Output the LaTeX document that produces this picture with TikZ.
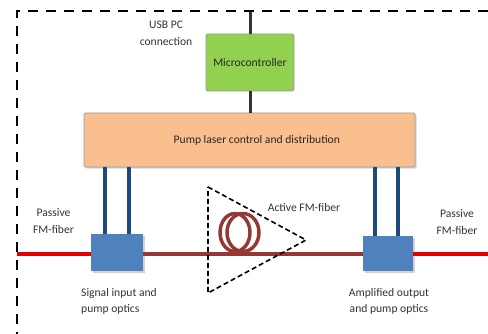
\documentclass[tikz,border=0pt]{standalone}
\usepackage{fontspec}
\setmainfont{Carlito}
\usepackage{tikz}
\usetikzlibrary{shadows}
\definecolor{boxgreen}{RGB}{146,208,80}
\definecolor{boxorange}{RGB}{250,191,143}
\definecolor{boxblue}{RGB}{79,129,189}
\definecolor{pumpblue}{RGB}{31,73,125}
\definecolor{activered}{RGB}{149,55,53}
\tikzstyle{control} = [rectangle, rounded corners=1pt, text centered, draw=black!40, line width=0.5pt, font=\fontsize{8.7}{10}\selectfont, text=black!85, inner sep=0pt]
\tikzstyle{softshadow} = [drop shadow={shadow xshift=1.2pt, shadow yshift=-1.2pt, fill=black!35}]
\tikzstyle{optics} = [rectangle, fill=boxblue, draw=none, inner sep=0pt, softshadow]
\tikzstyle{caption} = [font=\fontsize{8.7}{12.5}\selectfont, text=black!80, inner sep=0pt]
\tikzstyle{wire} = [line width=2pt, draw=black!80]
\tikzstyle{pump} = [line width=3pt, draw=pumpblue]
\tikzstyle{passive} = [line width=2.5pt, draw=red!90!black]
\tikzstyle{activefiber} = [line width=3pt, draw=activered]
\tikzstyle{coil} = [line width=2.6pt, draw=activered]
\tikzstyle{frame} = [line width=2.2pt, dash pattern=on 7.5pt off 6pt]
\begin{document}
\begin{tikzpicture}[x=0.75pt, y=-0.75pt]
    \useasboundingbox (0,0) rectangle (488,334);
    % Nodes
    \node (micro) [control, fill=boxgreen, minimum width=66pt, minimum height=42.75pt] at (250,62.5) {Microcontroller};
    \node (pumpctl) [control, fill=boxorange, minimum width=248.25pt, minimum height=40.5pt, softshadow] at (249.5,140) {\hspace*{11pt}Pump laser control and distribution};
    \node (inoptics) [optics, minimum width=39pt, minimum height=27.75pt] at (117,252.5) {};
    \node (outoptics) [optics, minimum width=37.5pt, minimum height=26.25pt] at (388,253.5) {};
    \coordinate (usb) at (250.5,11);
    \coordinate (inleft) at (105,167);
    \coordinate (inright) at (129,167);
    \coordinate (outleft) at (375,167);
    \coordinate (outright) at (398,167);
    \coordinate (fiberleft) at (17,254);
    \coordinate (fiberright) at (488,254);
    \coordinate (ampa) at (208,187);
    \coordinate (ampb) at (306,240);
    \coordinate (ampc) at (208,293);
    % Arrows
    \draw [wire] (usb) -- (usb |- micro.north);
    \draw [wire] (usb |- micro.south) -- (usb |- pumpctl.north);
    \draw [pump] (inleft) -- (inleft |- inoptics.north);
    \draw [pump] (inright) -- (inright |- inoptics.north);
    \draw [pump] (outleft) -- (outleft |- outoptics.north);
    \draw [pump] (outright) -- (outright |- outoptics.north);
    \draw [passive] (fiberleft) -- (inoptics.west |- fiberleft);
    \draw [passive] (outoptics.east |- fiberright) -- (fiberright);
    \draw [activefiber] (inoptics.east |- fiberleft) -- (outoptics.west |- fiberleft);
    % Coil
    \draw [coil] (235,232.5) ellipse (11.25pt and 14.25pt);
    \draw [coil] (243,232.5) ellipse (12pt and 14.25pt);
    % Amplifier and frame
    \draw [line width=1.2pt, dash pattern=on 3.75pt off 2.25pt] (ampa) -- (ampb) -- (ampc) -- cycle;
    \draw [frame] (488,11) -- (17,11) -- (17,334);
    % Labels
    \node (usblabel) [caption, align=center] at (166,33.5) {USB PC\\connection};
    \node (leftlabel) [caption, align=center] at (53.5,221) {Passive\\FM-fiber};
    \node (rightlabel) [caption, align=center] at (457,222) {Passive\\FM-fiber};
    \node (activelabel) [caption] at (304,208) {Active FM-fiber};
    \node (inlabel) [caption, align=left] at (119,301.5) {Signal input and\\pump optics};
    \node (outlabel) [caption, align=center] at (389,301.5) {Amplified output\\and pump optics};
\end{tikzpicture}
\end{document}
